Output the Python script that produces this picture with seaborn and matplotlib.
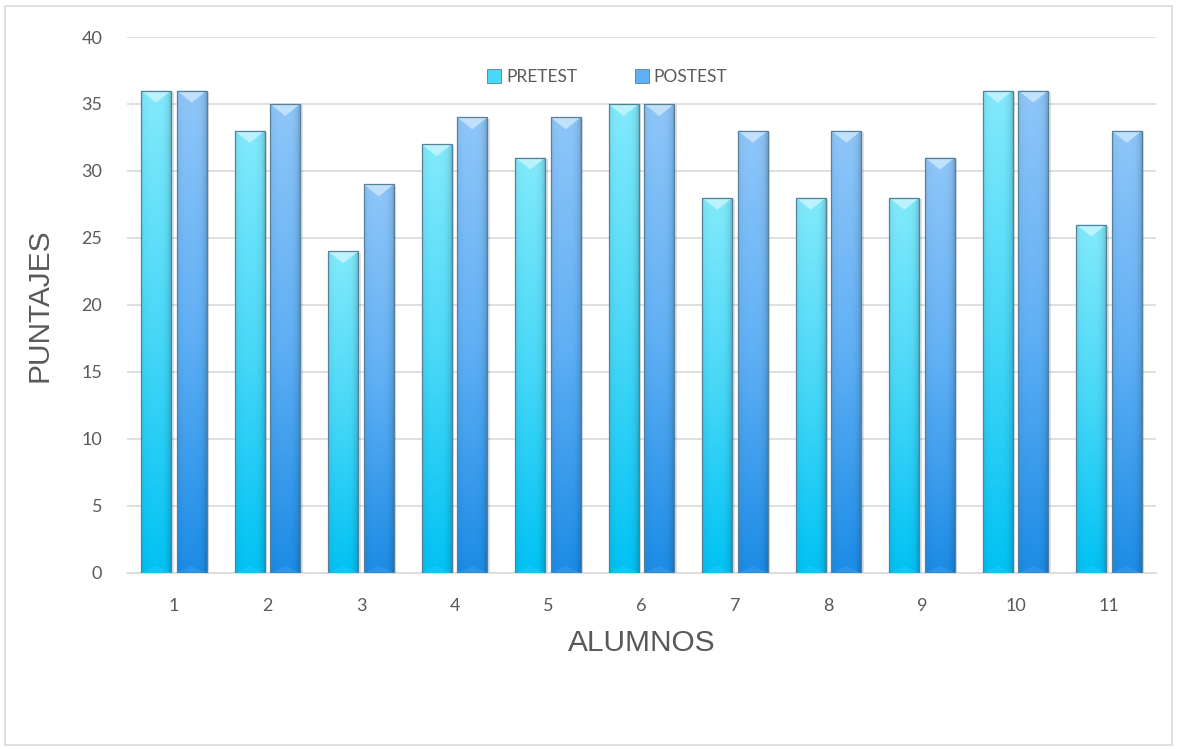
import numpy as np
import pandas as pd
import seaborn as sns
import matplotlib.pyplot as plt
from matplotlib.colors import to_rgb
from matplotlib.patches import Polygon, Patch, Rectangle

# Scores per student, before and after
alumnos = [str(i) for i in range(1, 12)]
pretest = [36, 33, 24, 32, 31, 35, 28, 28, 28, 36, 26]
postest = [36, 35, 29, 34, 34, 35, 33, 33, 31, 36, 33]
series = ["PRETEST", "POSTEST"]
y_ticks = list(range(0, 41, 5))

# Gradient stops (top, middle, bottom) for each series
grad = {
    "PRETEST": ("#82eafc", "#48d8f8", "#00c2f4"),
    "POSTEST": ("#8fc6f9", "#60b0f5", "#1c8ce6"),
}
text_color = "#595959"
grid_color = "#d9d9d9"
edge_color = "#55809a"

sns.set_theme(style="white")
plt.rcParams["font.family"] = ["Lato", "DejaVu Sans"]

df = pd.DataFrame({
    "ALUMNOS": alumnos * 2,
    "Prueba": [series[0]] * len(alumnos) + [series[1]] * len(alumnos),
    "PUNTAJES": pretest + postest,
})

fig = plt.figure(figsize=(11.77, 7.49), dpi=100)
ax = fig.add_axes([0.1081, 0.235, 0.8739, 0.7156])

sns.barplot(
    data=df, x="ALUMNOS", y="PUNTAJES", hue="Prueba",
    order=alumnos, hue_order=series,
    palette=[grad[s][2] for s in series],
    width=0.76, gap=0.16, errorbar=None, legend=False, ax=ax,
)

ax.set_ylim(0, 40)
xlim = ax.get_xlim()
ax.set_yticks(y_ticks)

# pixels -> data units for bevel and shadow sizes
ax_h_px = fig.get_figheight() * fig.dpi * ax.get_position().height
ax_w_px = fig.get_figwidth() * fig.dpi * ax.get_position().width
dy_per_px = 40 / ax_h_px
dx_per_px = (xlim[1] - xlim[0]) / ax_w_px


def gradient_image(stops, n=256, m=48):
    top, mid, bottom = (np.array(to_rgb(c)) for c in stops)
    t = np.linspace(0, 1, n)[:, None, None]
    upper = (1 - 2 * t) * top + 2 * t * mid
    lower = (2 - 2 * t) * mid + (2 * t - 1) * bottom
    c = np.where(t < 0.5, upper, lower)
    u = np.linspace(0, 1, m)[None, :, None]
    shade = 1 - 0.06 * np.abs(2 * u - 1) ** 3 - 0.12 * u ** 10
    return np.clip(c * shade, 0, 1)


def lighten(c, f):
    c = np.array(to_rgb(c))
    return tuple(c + (1 - c) * f)


bars = list(ax.patches)
labels = [series[0]] * len(pretest) + [series[1]] * len(postest)
for patch, lab in zip(bars, labels):
    x0, w, h = patch.get_x(), patch.get_width(), patch.get_height()
    x1, xc = x0 + w, x0 + w / 2
    stops = grad[lab]
    # soft shadow on the right
    ax.add_patch(Rectangle((x0 + 2.5 * dx_per_px, 0), w, h - 1.5 * dy_per_px,
                           facecolor="black", alpha=0.12, lw=0, zorder=2.4))
    img = ax.imshow(gradient_image(stops), extent=[x0, x1, 0, h],
                    origin="upper", aspect="auto", zorder=2.6,
                    interpolation="bilinear")
    img.set_clip_path(patch)
    # bevelled top
    d = 12 * dy_per_px
    ax.add_patch(Polygon([(x0, h), (x1, h), (xc, h - d)], closed=True,
                         facecolor=lighten(stops[0], 0.45), lw=0, zorder=2.8))
    ax.add_patch(Polygon([(x0, 0), (x1, 0), (xc, d * 0.6)], closed=True,
                         facecolor=lighten(stops[2], 0.15), lw=0, zorder=2.8,
                         alpha=0.5))
    patch.set_facecolor("none")
    patch.set_edgecolor(edge_color)
    patch.set_linewidth(0.9)
    patch.set_zorder(3)

ax.set_xlim(xlim)
ax.set_ylim(0, 40)

ax.yaxis.grid(True, color=grid_color, linewidth=1.2)
ax.set_axisbelow(True)
for s in ["left", "right", "top"]:
    ax.spines[s].set_visible(False)
ax.spines["bottom"].set_color(grid_color)
ax.spines["bottom"].set_linewidth(1.2)
ax.tick_params(axis="both", length=0, labelsize=13, colors=text_color)
ax.tick_params(axis="y", pad=18)
ax.tick_params(axis="x", pad=18)

ax.set_xlabel("ALUMNOS", fontsize=21.5, color=text_color,
              family=["Liberation Sans", "DejaVu Sans"], labelpad=11)
ax.set_ylabel("PUNTAJES", fontsize=21.5, color=text_color,
              family=["Liberation Sans", "DejaVu Sans"], labelpad=20)

handles = [Patch(facecolor=grad[s][1], edgecolor=edge_color, linewidth=0.6) for s in series]
leg = fig.legend(handles, series, loc="center", bbox_to_anchor=(0.516, 0.897),
                 ncol=2, frameon=False, fontsize=12.5, handlelength=0.8,
                 handleheight=0.8, handletextpad=0.3, columnspacing=3.3)
for t in leg.get_texts():
    t.set_color(text_color)

# chart frame
fig.add_artist(Rectangle((0.004, 0.006), 0.992, 0.986, transform=fig.transFigure,
                         fill=False, edgecolor=grid_color, linewidth=1.2))

fig.savefig("out.png", dpi=100, facecolor="white")
